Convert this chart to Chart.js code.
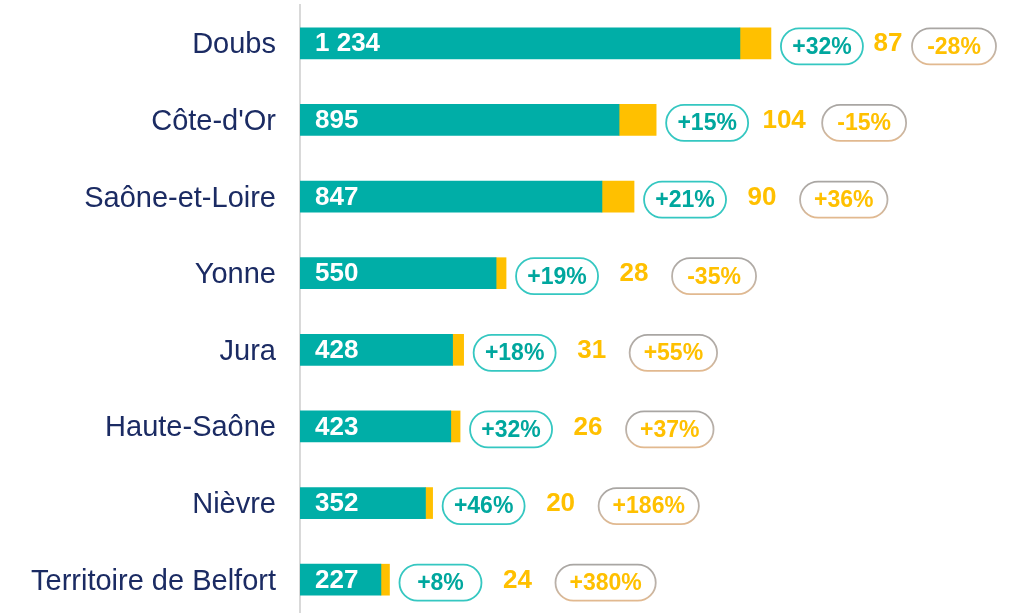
<!DOCTYPE html>
<html>
<head>
<meta charset="utf-8">
<script src="https://cdn.jsdelivr.net/npm/chart.js@4"></script>
<style>
html,body{margin:0;padding:0;background:#fff;overflow:hidden;}
#wrap{width:1018px;height:613px;overflow:hidden;}
</style>
</head>
<body>
<div id="wrap"><canvas id="c" width="1018" height="618"></canvas></div>
<script>
const categories = ['Doubs', "Côte-d'Or", 'Saône-et-Loire', 'Yonne', 'Jura', 'Haute-Saône', 'Nièvre', 'Territoire de Belfort'];
const tealValues = [1234, 895, 847, 550, 428, 423, 352, 227];
const tealChange = ['+32%', '+15%', '+21%', '+19%', '+18%', '+32%', '+46%', '+8%'];
const yellowValues = [87, 104, 90, 28, 31, 26, 20, 24];
const yellowChange = ['-28%', '-15%', '+36%', '-35%', '+55%', '+37%', '+186%', '+380%'];

const TEAL = '#00AEA7';
const TEAL_TEXT = '#00A79E';
const TEAL_LINE = '#35C7C1';
const YELLOW = '#FFC000';
const NAVY = '#1B2B63';
const FONT = '"Liberation Sans", Arial, sans-serif';

function fmt(n) {
  return String(n).replace(/\B(?=(\d{3})+(?!\d))/g, ' ');
}

function pill(ctx, x, y, w, h, stroke) {
  const r = h / 2;
  ctx.beginPath();
  ctx.moveTo(x + r, y);
  ctx.lineTo(x + w - r, y);
  ctx.arc(x + w - r, y + r, r, -Math.PI / 2, Math.PI / 2);
  ctx.lineTo(x + r, y + h);
  ctx.arc(x + r, y + r, r, Math.PI / 2, Math.PI * 1.5);
  ctx.closePath();
  ctx.fillStyle = '#fff';
  ctx.fill();
  ctx.strokeStyle = stroke;
  ctx.lineWidth = 1.8;
  ctx.stroke();
}

const annotate = {
  id: 'annotate',
  afterDatasetsDraw(chart) {
    const ctx = chart.ctx;
    const m0 = chart.getDatasetMeta(0);
    const m1 = chart.getDatasetMeta(1);
    const left = chart.chartArea.left;
    const limit = chart.width - 22;
    ctx.save();
    categories.forEach((cat, i) => {
      const tb = m0.data[i];
      const yb = m1.data[i];
      const cy = tb.y;
      const end = yb.x;
      // value in bar
      ctx.font = 'bold 26px ' + FONT;
      ctx.fillStyle = '#fff';
      ctx.textAlign = 'left';
      ctx.textBaseline = 'middle';
      ctx.fillText(fmt(tealValues[i]), left + 15, cy + 1);

      const py = cy + 3;
      const ph = 36;
      // teal change pill
      ctx.font = 'bold 23px ' + FONT;
      const tw = ctx.measureText(tealChange[i]).width;
      const pw = Math.max(82, tw + 22);
      const px = end + 10;
      pill(ctx, px, py - ph / 2, pw, ph, TEAL_LINE);
      ctx.fillStyle = TEAL_TEXT;
      ctx.textAlign = 'center';
      ctx.fillText(tealChange[i], px + pw / 2, py + 1);

      // yellow change pill geometry (kept inside the canvas)
      const tw2 = ctx.measureText(yellowChange[i]).width;
      const pw2 = Math.max(84, tw2 + 28);
      const px2 = Math.min(end + 166, limit - pw2);

      // yellow number
      ctx.font = 'bold 26px ' + FONT;
      const nw = ctx.measureText(fmt(yellowValues[i])).width;
      const nx = Math.max(Math.min(end + 128, px2 - 24), px + pw + 10 + nw / 2);
      ctx.fillStyle = YELLOW;
      ctx.fillText(fmt(yellowValues[i]), nx, cy + 1);

      // yellow change pill
      const g = ctx.createLinearGradient(0, py - ph / 2, 0, py + ph / 2);
      g.addColorStop(0, '#A9A6A3');
      g.addColorStop(0.6, '#BDB3AA');
      g.addColorStop(1, '#E2B98F');
      pill(ctx, px2, py - ph / 2, pw2, ph, g);
      ctx.font = 'bold 23px ' + FONT;
      ctx.fillStyle = YELLOW;
      ctx.fillText(yellowChange[i], px2 + pw2 / 2, py + 1);
    });
    ctx.restore();
  }
};

new Chart(document.getElementById('c'), {
  type: 'bar',
  data: {
    labels: categories,
    datasets: [
      { data: tealValues, backgroundColor: TEAL, barThickness: 31, borderWidth: 0 },
      { data: yellowValues, backgroundColor: YELLOW, barThickness: 31, borderWidth: 0 }
    ]
  },
  options: {
    indexAxis: 'y',
    responsive: false,
    animation: false,
    layout: { padding: { top: 5, right: 5, left: 0, bottom: 0 } },
    plugins: { legend: { display: false }, tooltip: { enabled: false } },
    scales: {
      x: { stacked: true, min: 0, max: 2000, display: false },
      y: {
        stacked: true,
        grid: { display: false, drawTicks: false, tickLength: 0 },
        border: { display: true, color: '#D9D9D9', width: 2 },
        ticks: { color: NAVY, font: { family: FONT, size: 29 }, padding: 24, labelOffset: 2 },
        afterFit(scale) {
          scale.width = 300;
          scale.paddingTop = 0;
          scale.paddingBottom = 0;
        }
      }
    }
  },
  plugins: [annotate]
});
</script>
</body>
</html>
